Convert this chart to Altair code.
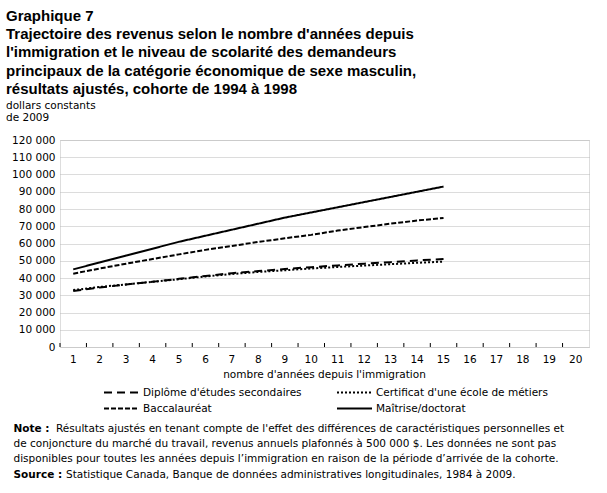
import altair as alt
import pandas as pd

annees = list(range(1, 16))
toutes_annees = list(range(1, 21))
niveaux = ["Diplôme d'études secondaires", "Certificat d'une école de métiers",
           "Baccalauréat", "Maîtrise/doctorat"]
ordre_legende = ["Diplôme d'études secondaires", "Baccalauréat",
                 "Certificat d'une école de métiers", "Maîtrise/doctorat"]
diplome = [32500, 34500, 36200, 37800, 39500, 41200, 42800, 44000, 45200, 46300, 47300, 48300, 49200, 50200, 51000]
certificat = [33000, 34800, 36300, 37800, 39300, 40900, 42300, 43500, 44500, 45500, 46400, 47200, 48000, 48800, 49500]
bac = [42500, 45500, 48300, 51000, 53700, 56300, 58600, 60900, 63000, 65000, 67500, 69500, 71500, 73300, 74800]
maitrise = [45000, 49000, 53000, 57000, 61000, 64500, 68000, 71500, 75000, 78000, 81000, 84000, 87000, 90000, 93000]
y_ticks = list(range(0, 120001, 10000))

titre = ["Graphique 7",
         "Trajectoire des revenus selon le nombre d'années depuis",
         "l'immigration et le niveau de scolarité des demandeurs",
         "principaux de la catégorie économique de sexe masculin,",
         "résultats ajustés, cohorte de 1994 à 1998"]
unite = ["dollars constants", "de 2009"]
titre_x = "nombre d'années depuis l'immigration"
note_lab = "Note :"
note_1 = "Résultats ajustés en tenant compte de l'effet des différences de caractéristiques personnelles et"
note_rest = ["de conjoncture du marché du travail, revenus annuels plafonnés à 500 000 $. Les données ne sont pas",
             "disponibles pour toutes les années depuis l’immigration en raison de la période d’arrivée de la cohorte."]
source_lab = "Source :"
source_txt = "Statistique Canada, Banque de données administratives longitudinales, 1984 à 2009."

rows = []
for nom, vals in zip(niveaux, [diplome, certificat, bac, maitrise]):
    for a, v in zip(annees, vals):
        rows.append({"annee": a, "revenu": v, "niveau": nom})
df = pd.DataFrame(rows)

W, H = 529, 207
FONT = "DejaVu Sans"
SMALL = 10.5

dash_par_niveau = {
    "Diplôme d'études secondaires": [8, 5],
    "Baccalauréat": [5, 2],
    "Certificat d'une école de métiers": [2, 2],
    "Maîtrise/doctorat": [1, 0],
}

xscale = alt.Scale(type="band", domain=toutes_annees, paddingInner=0, paddingOuter=0)
yscale = alt.Scale(domain=[0, 120000], nice=False)

lines = alt.Chart(df).mark_line(strokeWidth=2, color="black").encode(
    x=alt.X("annee:O", scale=xscale,
            axis=alt.Axis(title=None, labelAngle=0, ticks=False, domain=False, labelPadding=7,
                          labelFont=FONT, labelFontSize=SMALL, labelColor="black")),
    y=alt.Y("revenu:Q", scale=yscale,
            axis=alt.Axis(title=None, values=y_ticks, ticks=False, domain=False, labelPadding=5,
                          labelFont=FONT, labelFontSize=SMALL, labelColor="black",
                          labelExpr="replace(format(datum.value, ','), ',', ' ')",
                          grid=True, gridColor="#b8b8b8", gridDash=[1, 1], gridWidth=1)),
    strokeDash=alt.StrokeDash("niveau:N",
        scale=alt.Scale(domain=ordre_legende, range=[dash_par_niveau[n] for n in ordre_legende]),
        sort=ordre_legende,
        legend=alt.Legend(title=None, orient="none", legendX=43, legendY=247, columns=2,
                          symbolType="stroke", symbolSize=1225, symbolStrokeWidth=2,
                          symbolStrokeColor="black", labelFont=FONT, labelFontSize=SMALL,
                          labelColor="black", labelOffset=3, columnPadding=34, rowPadding=5,
                          clipHeight=11, labelLimit=400, padding=0)),
    order=alt.Order("annee:Q"),
)

ticks_df = pd.DataFrame({"annee": toutes_annees})
band_ticks = alt.Chart(ticks_df).mark_rule(color="black", strokeWidth=1).encode(
    x=alt.X("annee:O", scale=xscale, bandPosition=0),
    y=alt.value(H),
    y2=alt.value(H - 4),
)

one = pd.DataFrame({"k": [0]})

def txt(text, x, y, size=SMALL, weight="normal", align="left", lh=None, font=FONT):
    kw = dict(font=font, fontSize=size, fontWeight=weight, align=align,
              baseline="alphabetic", color="black")
    if lh is not None:
        kw["lineHeight"] = lh
    return alt.Chart(one).mark_text(**kw).encode(
        x=alt.value(x), y=alt.value(y), text=alt.value(text))

t_titre = txt(titre, -54, -119.3, size=15, weight="bold", lh=18.3, font="Liberation Sans")
t_unite = txt(unite, -54, -30.7, lh=11.6)
t_xtitre = txt(titre_x, W / 2, 237.7, align="center")
t_note_lab = txt(note_lab, -46.5, 292, weight="bold")
t_note_1 = txt(note_1, -4, 292)
t_note_rest = txt(note_rest, -46.5, 307, lh=15)
t_src_lab = txt(source_lab, -46.5, 338, weight="bold")
t_src = txt(source_txt, 6, 338)

chart = alt.layer(
    lines, band_ticks, t_titre, t_unite, t_xtitre,
    t_note_lab, t_note_1, t_note_rest, t_src_lab, t_src
).properties(
    width=W, height=H,
    autosize=alt.AutoSizeParams(type="none"),
    padding={"left": 60, "top": 140, "right": 18, "bottom": 146},
).configure_view(
    stroke="black", strokeWidth=1
).configure(background="white")

chart.save("out.html", embed_options={"renderer": "svg", "actions": False})
